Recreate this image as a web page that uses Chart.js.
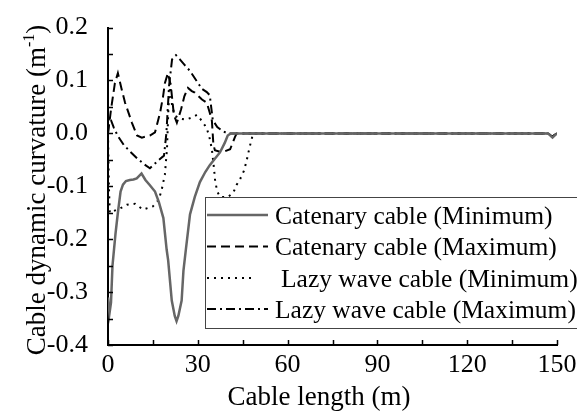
<!DOCTYPE html>
<html>
<head>
<meta charset="utf-8">
<script src="https://cdn.jsdelivr.net/npm/chart.js@4.4.0/dist/chart.umd.min.js"></script>
<style>
  html, body { margin: 0; padding: 0; background: #fff; }
</style>
</head>
<body>
<canvas id="chart" width="577" height="414"></canvas>
<script>
// cable length (m) and curvature (1/m)
const catMinLen = [0, 0.5, 1, 1.5, 2.5, 3.3, 4.2, 5, 6, 7.3, 8.5, 9.6, 10.5, 11.2, 12.5, 14, 15.7, 17, 18.5, 19.6, 20.1, 21.3, 22.3, 22.9, 23.5, 24.6, 25.2, 26, 27.4, 29, 30.7, 32.5, 34, 35.7, 37.4, 39, 40, 41, 45, 60, 90, 120, 147, 148.5, 150];
const catMinVal = [-0.31, -0.34, -0.32, -0.25, -0.19, -0.15, -0.11, -0.097, -0.09, -0.088, -0.087, -0.085, -0.08, -0.076, -0.088, -0.098, -0.11, -0.13, -0.16, -0.22, -0.24, -0.316, -0.345, -0.355, -0.345, -0.316, -0.26, -0.22, -0.153, -0.12, -0.092, -0.073, -0.06, -0.048, -0.036, -0.018, -0.004, 0, 0, 0, 0, 0, 0, -0.008, 0];

const catMaxLen = [0, 1, 2.3, 3.3, 4.5, 5.7, 8, 9.7, 11.3, 14, 15.7, 17.4, 18.4, 19, 20, 21, 22, 23, 24.4, 25.5, 26.7, 28, 29, 31.4, 33, 34, 34.7, 35.2, 35.7, 38, 40.8, 42.4, 43, 60, 90, 120, 147, 148.5, 150];
const catMaxVal = [0, 0.045, 0.095, 0.114, 0.085, 0.058, 0.02, -0.004, -0.008, -0.004, 0.002, 0.039, 0.07, 0.095, 0.114, 0.09, 0.035, 0.02, 0.045, 0.07, 0.086, 0.08, 0.077, 0.064, 0.058, 0.039, 0.024, -0.02, -0.032, -0.036, -0.03, -0.007, 0, 0, 0, 0, 0, -0.006, 0];

const lazyMinLen = [0, 0.3, 0.6, 1.3, 4, 6.3, 9, 11.7, 15, 17, 18, 19, 19.7, 20.2, 20.8, 21.4, 22.4, 24, 26, 28, 29.7, 31.3, 33, 34, 34.7, 35.3, 35.8, 36.5, 37.5, 40, 41.8, 43, 44, 45.4, 46.3, 47, 47.7, 48.5, 60, 90, 120, 147, 148.5, 150];
const lazyMinVal = [0, -0.1, -0.15, -0.148, -0.142, -0.135, -0.133, -0.144, -0.138, -0.125, -0.105, -0.078, -0.03, 0.05, 0.095, 0.052, 0.033, 0.028, 0.026, 0.03, 0.035, 0.024, 0.01, -0.01, -0.03, -0.06, -0.09, -0.11, -0.12, -0.12, -0.113, -0.097, -0.088, -0.071, -0.052, -0.034, -0.017, 0, 0, 0, 0, 0, -0.006, 0];

const lazyMaxLen = [0, 0.3, 1, 2, 3.3, 5.3, 7.5, 9.7, 12, 14, 15.5, 17, 18.7, 19.5, 20.4, 21.4, 22.7, 24, 25.5, 27.4, 29.5, 31.4, 33, 34, 35, 36.5, 38.4, 40, 60, 90, 120, 147, 148.5, 150];
const lazyMaxVal = [0, 0.03, 0.025, 0.01, -0.005, -0.022, -0.035, -0.047, -0.058, -0.066, -0.058, -0.05, -0.042, 0, 0.09, 0.14, 0.148, 0.14, 0.13, 0.118, 0.1, 0.084, 0.078, 0.072, 0.025, 0.012, 0.004, 0, 0, 0, 0, 0, -0.006, 0];

const seriesNames = ['Catenary cable (Minimum)', 'Catenary cable (Maximum)', 'Lazy wave cable (Minimum)', 'Lazy wave cable (Maximum)'];
const xLabels = [0, 30, 60, 90, 120, 150];
const yLabels = [-0.4, -0.3, -0.2, -0.1, 0.0, 0.1, 0.2];

const FONT = "'Times New Roman', 'Liberation Serif', 'DejaVu Serif', serif";

function pts(len, val) {
  return len.map((l, i) => ({ x: l, y: val[i] }));
}

const decor = {
  id: 'decor',
  afterDraw(chart) {
    const ctx = chart.ctx;
    const a = chart.chartArea;
    const xs = chart.scales.x, ys = chart.scales.y;
    ctx.save();

    // inward tick marks
    ctx.strokeStyle = '#000';
    ctx.lineWidth = 1.5;
    ctx.beginPath();
    xs.ticks.forEach(t => {
      const px = Math.round(xs.getPixelForValue(t.value)) + 0.5;
      ctx.moveTo(px, a.bottom);
      ctx.lineTo(px, a.bottom - 5);
    });
    ys.ticks.forEach(t => {
      const py = Math.round(ys.getPixelForValue(t.value)) + 0.5;
      ctx.moveTo(a.left, py);
      ctx.lineTo(a.left + 5, py);
    });
    ctx.stroke();

    // axis titles
    ctx.fillStyle = '#000';
    ctx.font = '27px ' + FONT;
    ctx.textAlign = 'center';
    ctx.textBaseline = 'middle';
    ctx.fillText('Cable length (m)', 319, 398);

    ctx.save();
    ctx.translate(45, 190);
    ctx.rotate(-Math.PI / 2);
    ctx.textAlign = 'left';
    ctx.textBaseline = 'alphabetic';
    const main = 'Cable dynamic curvature (m', sup = '-1', tail = ')';
    ctx.font = '27px ' + FONT;
    const w1 = ctx.measureText(main).width, w3 = ctx.measureText(tail).width;
    ctx.font = '16px ' + FONT;
    const w2 = ctx.measureText(sup).width;
    let x0 = -(w1 + w2 + w3) / 2;
    ctx.font = '27px ' + FONT;
    ctx.fillText(main, x0, 0);
    ctx.font = '16px ' + FONT;
    ctx.fillText(sup, x0 + w1, -11);
    ctx.font = '27px ' + FONT;
    ctx.fillText(tail, x0 + w1 + w2, 0);
    ctx.restore();

    // legend box
    const rows = [215, 246.5, 278, 309];
    const textX = [275, 275, 281, 275];
    ctx.fillStyle = '#fff';
    ctx.fillRect(205, 197, 380, 131);
    ctx.strokeStyle = '#444';
    ctx.lineWidth = 1;
    ctx.strokeRect(205.5, 197.5, 380, 131);
    chart.data.datasets.forEach((ds, i) => {
      ctx.strokeStyle = ds.borderColor;
      ctx.lineWidth = ds.borderWidth;
      ctx.setLineDash(ds.borderDash || []);
      ctx.beginPath();
      ctx.moveTo(207, rows[i]);
      ctx.lineTo(i === 2 ? 256 : 268, rows[i]);
      ctx.stroke();
      ctx.setLineDash([]);
      ctx.fillStyle = '#000';
      ctx.font = '25.5px ' + FONT;
      ctx.textAlign = 'left';
      ctx.textBaseline = 'middle';
      ctx.fillText(ds.label, textX[i], rows[i] + 2);
    });
    ctx.restore();
  }
};

new Chart(document.getElementById('chart'), {
  type: 'line',
  data: {
    datasets: [
      { label: seriesNames[0], data: pts(catMinLen, catMinVal), borderColor: '#666666', borderWidth: 2.5 },
      { label: seriesNames[1], data: pts(catMaxLen, catMaxVal), borderColor: '#000000', borderWidth: 2, borderDash: [9, 5] },
      { label: seriesNames[2], data: pts(lazyMinLen, lazyMinVal), borderColor: '#000000', borderWidth: 2, borderDash: [2, 5] },
      { label: seriesNames[3], data: pts(lazyMaxLen, lazyMaxVal), borderColor: '#000000', borderWidth: 2, borderDash: [9, 4, 2, 4] }
    ]
  },
  options: {
    responsive: false,
    animation: false,
    layout: { padding: { top: 24, right: 20, left: 0, bottom: 0 } },
    elements: { point: { radius: 0 }, line: { tension: 0, fill: false } },
    plugins: { legend: { display: false }, tooltip: { enabled: false } },
    scales: {
      x: {
        type: 'linear',
        min: 0, max: 150,
        grid: { display: false },
        border: { display: true, color: '#000', width: 2 },
        ticks: {
          stepSize: 15, autoSkip: false, maxRotation: 0, padding: -3,
          color: '#000', font: { family: FONT, size: 26 },
          callback: v => xLabels.includes(v) ? String(v) : ''
        },
        afterFit: s => { s.height = 69; }
      },
      y: {
        min: -0.4, max: 0.2,
        grid: { display: false },
        border: { display: true, color: '#000', width: 2 },
        ticks: {
          stepSize: 0.05, autoSkip: false, padding: 12,
          color: '#000', font: { family: FONT, size: 26 },
          callback: v => {
            const r = Math.round(v * 10) / 10;
            return (Math.abs(v - r) < 1e-6 && yLabels.includes(r)) ? r.toFixed(1) : '';
          }
        },
        afterFit: s => { s.width = 108; }
      }
    }
  },
  plugins: [decor]
});
</script>
</body>
</html>
